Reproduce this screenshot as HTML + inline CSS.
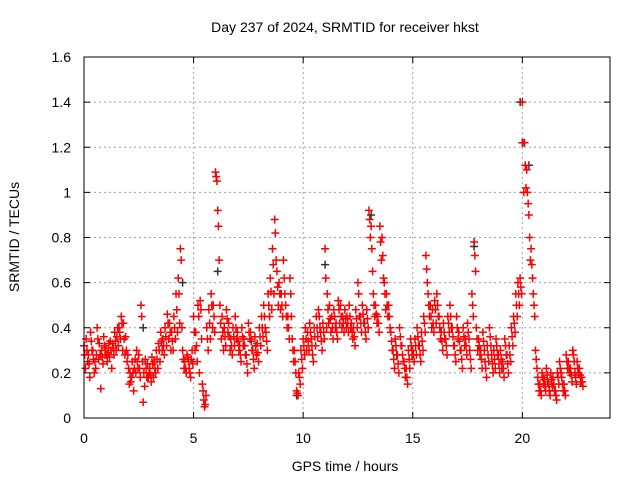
<!DOCTYPE html>
<html><head><meta charset="utf-8"><style>
body{margin:0;background:#fff;width:640px;height:480px;overflow:hidden}
text{font-family:"Liberation Sans",sans-serif;font-size:14px;fill:#000}
</style></head><body>
<svg id="chart" width="640" height="480">
<text x="345" y="32" text-anchor="middle">Day 237 of 2024, SRMTID for receiver hkst</text>
<text x="345" y="471" text-anchor="middle">GPS time / hours</text>
<text transform="translate(19,237) rotate(-90)" text-anchor="middle">SRMTID / TECUs</text>
<g id="grid"></g><g id="marks"></g>
<rect x="84" y="57" width="526" height="361" fill="none" stroke="#000" stroke-width="1"/>
</svg>
<script>
const xTicks=[0,5,10,15,20];
const yTicks=[0,0.2,0.4,0.6,0.8,1,1.2,1.4,1.6];
const yTickLabels=["0","0.2","0.4","0.6","0.8","1","1.2","1.4","1.6"];
const seriesA=[.32,.35,.28,.38,.30,.25,.40,.33,.30,.36,
.31,.29,.34,.33,.38,.36,.40,.45,.42,.36,
.28,.20,.25,.22,.30,.28,.50,.07,.26,.24,
.22,.27,.25,.30,.33,.38,.35,.40,.46,.42,
.38,.45,.55,.62,.75,.30,.25,.28,.22,.26,
.45,.38,.50,.52,.15,.05,.40,.48,.55,.50,
1.09,.92,.50,.45,.40,.48,.42,.35,.40,.45,
.38,.32,.40,.35,.28,.42,.38,.30,.36,.33,
.40,.45,.50,.38,.55,.62,.75,.88,.65,.60,
.55,.70,.50,.45,.62,.35,.30,.12,.20,.30,
.35,.40,.38,.42,.32,.40,.45,.48,.38,.42,
.75,.55,.50,.45,.48,.42,.52,.50,.45,.48,
.45,.50,.42,.40,.48,.60,.45,.50,.42,.48,
.92,.85,.55,.50,.45,.85,.80,.60,.55,.50,
.38,.30,.35,.28,.40,.32,.25,.22,.30,.35,
.30,.35,.40,.32,.38,.45,.72,.55,.50,.48,
.52,.55,.45,.38,.42,.35,.45,.50,.40,.32,
.45,.38,.30,.40,.35,.42,.30,.55,.78,.40,
.35,.30,.38,.25,.32,.40,.28,.30,.35,.28,
.30,.25,.35,.28,.32,.40,.45,.55,.60,.62,
1.40,1.22,1.10,.90,.75,.55,.30,.18,.15,.20,
.17,.22,.15,.20,.18,.12,.20,.25,.18,.15,
.28,.25,.22,.30,.20,.25,.22,.18];
const seriesB=[.22,.25,.18,.30,.20,.28,.26,.13,.24,.28,
.25,.27,.22,.28,.30,.32,.35,.30,.28,.25,
.15,.18,.12,.20,.22,.18,.25,.14,.18,.20,
.16,.18,.20,.22,.25,.30,.28,.32,.35,.30,
.30,.35,.38,.42,.40,.22,.20,.25,.18,.24,
.30,.25,.20,.35,.08,.10,.30,.35,.40,.38,
1.05,.70,.35,.30,.32,.38,.30,.28,.32,.35,
.30,.25,.32,.28,.20,.35,.30,.22,.28,.25,
.32,.36,.40,.30,.45,.48,.55,.70,.50,.48,
.45,.55,.40,.35,.45,.25,.20,.10,.15,.22,
.28,.30,.30,.35,.25,.32,.36,.40,.30,.35,
.40,.42,.38,.35,.40,.35,.42,.40,.38,.40,
.38,.40,.35,.32,.40,.45,.38,.42,.35,.40,
.80,.65,.45,.42,.38,.70,.62,.48,.45,.40,
.30,.22,.28,.20,.32,.25,.18,.15,.22,.28,
.25,.28,.32,.25,.30,.38,.60,.45,.40,.38,
.42,.45,.35,.30,.35,.28,.38,.40,.32,.25,
.35,.30,.22,.32,.28,.35,.22,.45,.65,.30,
.28,.22,.30,.18,.25,.32,.20,.22,.28,.20,
.22,.18,.28,.20,.25,.32,.38,.45,.50,.55,
1.00,1.02,.95,.70,.62,.45,.22,.12,.10,.15,
.12,.16,.10,.14,.12,.08,.15,.20,.12,.10,
.22,.20,.16,.25,.15,.20,.16,.14];
const seriesC=[.28,.30,.24,.34,.26,.22,.35,.28,.27,.32,
.28,.33,.30,.31,.34,.40,.38,.42,.35,.30,
.22,.16,.20,.26,.25,.22,.45,.20,.22,.18,
.19,.24,.22,.26,.30,.34,.32,.36,.42,.38,
.34,.40,.48,.55,.70,.26,.22,.27,.20,.30,
.38,.32,.45,.48,.12,.06,.35,.42,.50,.45,
1.07,.85,.42,.38,.36,.44,.36,.32,.36,.40,
.34,.28,.36,.32,.24,.38,.34,.26,.32,.29,
.36,.40,.45,.34,.50,.56,.68,.82,.58,.55,
.50,.62,.45,.40,.55,.30,.25,.11,.18,.26,
.32,.35,.34,.38,.28,.36,.40,.45,.34,.38,
.62,.48,.44,.40,.45,.38,.48,.45,.42,.44,
.42,.45,.38,.36,.44,.55,.42,.46,.38,.44,
.88,.75,.50,.46,.42,.78,.72,.55,.50,.45,
.34,.26,.32,.24,.36,.28,.22,.18,.26,.32,
.28,.32,.36,.28,.34,.42,.66,.50,.45,.42,
.48,.50,.40,.34,.38,.32,.42,.45,.36,.28,
.40,.34,.26,.36,.32,.38,.26,.50,.72,.35,
.32,.26,.34,.22,.28,.36,.24,.26,.32,.24,
.26,.22,.32,.24,.28,.36,.42,.50,.55,.58,
1.22,1.12,1.00,.80,.68,.50,.26,.15,.12,.18,
.14,.19,.12,.17,.15,.10,.18,.22,.15,.12,
.25,.22,.19,.28,.18,.22,.19,.16];
const timeStep=0.1;
const blackTimes=[4.5,6.1,13.1,19.9,20.0,20.3,17.8,11.0,9.7,2.7];
const blackValues=[0.6,0.65,0.9,1.4,1.22,1.12,0.76,0.68,0.1,0.4];
const NS="http://www.w3.org/2000/svg";
const X=t=>84+t*(526/24);
const Y=v=>418-v*(361/1.6);
const grid=document.getElementById('grid'),marks=document.getElementById('marks');
function mk(tag,attrs,parent){const e=document.createElementNS(NS,tag);for(const k in attrs)e.setAttribute(k,attrs[k]);parent.appendChild(e);return e;}
xTicks.forEach(t=>{
  const g=mk('line',{x1:X(t),x2:X(t),y1:57,y2:418,stroke:'#a0a0a0','stroke-dasharray':'2,3'},grid);
  
  
  mk('line',{x1:X(t),x2:X(t),y1:418,y2:412,stroke:'#000'},grid);
  mk('line',{x1:X(t),x2:X(t),y1:57,y2:63,stroke:'#000'},grid);
  const l=mk('text',{x:X(t),y:443,'text-anchor':'middle'},grid);l.textContent=t;
  
  
});
yTicks.forEach((v,i)=>{
  const g=mk('line',{x1:84,x2:610,y1:Y(v),y2:Y(v),stroke:'#a0a0a0','stroke-dasharray':'2,3'},grid);
  
  
  mk('line',{x1:84,x2:90,y1:Y(v),y2:Y(v),stroke:'#000'},grid);
  mk('line',{x1:604,x2:610,y1:Y(v),y2:Y(v),stroke:'#000'},grid);
  const l=mk('text',{x:71,y:Y(v)+5,'text-anchor':'end'},grid);l.textContent=yTickLabels[i];
  
  
});
function plus(t,v,color){
  const x=X(t),y=Y(v);
  const p=mk('path',{d:`M${x-4},${y}h8M${x},${y-4}v8`,stroke:color,'stroke-width':1.5,fill:'none'},marks);
  
  
}
blackTimes.forEach((t,i)=>plus(t,blackValues[i],'#333'));
seriesB.forEach((v,i)=>plus(i*timeStep+0.066,v,'#ff0000'));
seriesC.forEach((v,i)=>plus(i*timeStep+0.033,v,'#ff0000'));
seriesA.forEach((v,i)=>plus(i*timeStep,v,'#ff0000'));
</script>
</body></html>
